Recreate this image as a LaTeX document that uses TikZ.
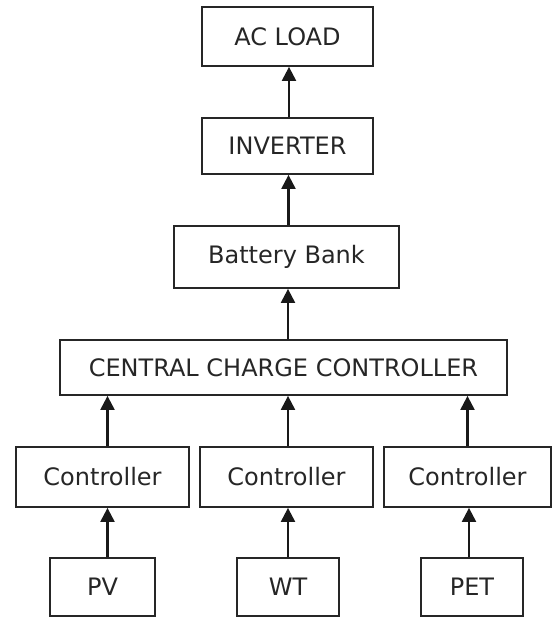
\documentclass[tikz,border=0pt]{standalone}
\usepackage{fontspec}
\setmainfont{DejaVu Sans}
\usetikzlibrary{arrows.meta}
\begin{document}
\begin{tikzpicture}[x=1pt,y=1pt,
  box/.style={draw=black!85, line width=1.8pt, fill=white, inner sep=0pt,
    font=\fontsize{24}{28}\selectfont, text=black!85},
  flow/.style={draw=black!90, line width=2.2pt, -{Triangle[width=14pt,length=14pt]}}]
\useasboundingbox[fill=white] (0,0) rectangle (554,-618);
\node[box, minimum width=171pt, minimum height=59pt] (acload) at (287.5,-36.5) {AC LOAD};
\node[box, minimum width=171pt, minimum height=56pt] (inv) at (287.5,-146) {INVERTER};
\node[box, minimum width=225pt, minimum height=62pt] (bat) at (286.5,-257) {Battery Bank};
\node[box, minimum width=447pt, minimum height=55pt] (ccc) at (283.5,-367.5) {CENTRAL CHARGE CONTROLLER};
\node[box, minimum width=173pt, minimum height=60pt] (c1) at (102.5,-477) {Controller};
\node[box, minimum width=173pt, minimum height=60pt] (c2) at (286.5,-477) {Controller};
\node[box, minimum width=167pt, minimum height=60pt] (c3) at (467.5,-477) {Controller};
\node[box, minimum width=105pt, minimum height=58pt] (pv) at (102.5,-587) {PV};
\node[box, minimum width=102pt, minimum height=58pt] (wt) at (288,-587) {WT};
\node[box, minimum width=102pt, minimum height=58pt] (pet) at (472,-587) {PET};
\draw[flow] ([xshift=5pt]pv.north) -- ([xshift=5pt]pv.north |- c1.south);
\draw[flow] (wt.north) -- (wt.north |- c2.south);
\draw[flow] ([xshift=-3pt]pet.north) -- ([xshift=-3pt]pet.north |- c3.south);
\draw[flow] ([xshift=5pt]c1.north) -- ([xshift=5pt]c1.north |- ccc.south);
\draw[flow] ([xshift=1.5pt]c2.north) -- ([xshift=1.5pt]c2.north |- ccc.south);
\draw[flow] (c3.north) -- (c3.north |- ccc.south);
\draw[flow] ([xshift=4.5pt]ccc.north) -- ([xshift=4.5pt]ccc.north |- bat.south);
\draw[flow] ([xshift=2pt]bat.north) -- ([xshift=2pt]bat.north |- inv.south);
\draw[flow] ([xshift=1.5pt]inv.north) -- ([xshift=1.5pt]inv.north |- acload.south);
\end{tikzpicture}
\end{document}
